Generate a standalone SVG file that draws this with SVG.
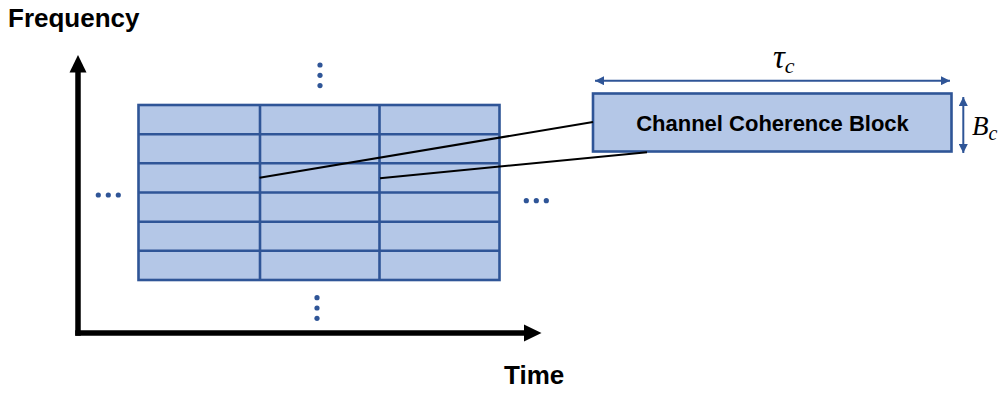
<svg xmlns="http://www.w3.org/2000/svg" width="1004" height="394" viewBox="0 0 1004 394">
<style>
.cell{fill:#B4C7E7;stroke:#2F5597;stroke-width:2.6}
.gl{stroke:#2F5597;stroke-width:2.6;fill:none}
.lbl{font-family:"Liberation Sans",Arial,sans-serif;font-weight:bold;fill:#000}
.math{font-family:"Liberation Serif","DejaVu Serif",serif;font-style:italic;fill:#000}
.dot{fill:#2F5597}
.conn{stroke:#000;stroke-width:2;fill:none}
.dim{stroke:#2F5597;stroke-width:2;fill:none}
.axis{stroke:#000;stroke-width:5.5;fill:none}
</style>
<defs>
<marker id="ah" viewBox="0 0 10 10" refX="10" refY="5" markerWidth="4.5" markerHeight="4.5" orient="auto-start-reverse" markerUnits="strokeWidth">
<path d="M0,0 L10,5 L0,10 z" fill="#2F5597"/>
</marker>
</defs>
<g id="axes">
<line class="axis" x1="78" y1="335.75" x2="78" y2="70"/>
<polygon points="69.5,72.5 78,55 86.5,72.5" fill="#000"/>
<line class="axis" x1="75.25" y1="333" x2="526" y2="333"/>
<polygon points="524,324.5 541.5,333 524,341.5" fill="#000"/>
<text class="lbl" x="8" y="27" font-size="26">Frequency</text>
<text class="lbl" x="504" y="384" font-size="26">Time</text>
</g>
<g id="grid">
<rect class="cell" x="138.5" y="105" width="361" height="175"/>
<line class="gl" x1="260" y1="105" x2="260" y2="280"/>
<line class="gl" x1="379.5" y1="105" x2="379.5" y2="280"/>
<line class="gl" x1="138.5" y1="134.2" x2="499.5" y2="134.2"/>
<line class="gl" x1="138.5" y1="163.3" x2="499.5" y2="163.3"/>
<line class="gl" x1="138.5" y1="192.5" x2="499.5" y2="192.5"/>
<line class="gl" x1="138.5" y1="221.7" x2="499.5" y2="221.7"/>
<line class="gl" x1="138.5" y1="250.8" x2="499.5" y2="250.8"/>
</g>
<g id="dots">
<circle class="dot" cx="320" cy="65" r="2.6"/>
<circle class="dot" cx="320" cy="75.3" r="2.6"/>
<circle class="dot" cx="320" cy="85.6" r="2.6"/>
<circle class="dot" cx="317" cy="297.7" r="2.6"/>
<circle class="dot" cx="317" cy="308" r="2.6"/>
<circle class="dot" cx="317" cy="318.3" r="2.6"/>
<circle class="dot" cx="98.3" cy="195" r="2.6"/>
<circle class="dot" cx="108.3" cy="195" r="2.6"/>
<circle class="dot" cx="118.3" cy="195" r="2.6"/>
<circle class="dot" cx="526.3" cy="200.7" r="2.6"/>
<circle class="dot" cx="536.3" cy="200.7" r="2.6"/>
<circle class="dot" cx="546.3" cy="200.7" r="2.6"/>
</g>
<g id="block">
<rect class="cell" x="593" y="93.5" width="358.5" height="58"/>
<text class="lbl" x="772.5" y="130.5" font-size="22" text-anchor="middle">Channel Coherence Block</text>
</g>
<g id="dimensions">
<line class="dim" x1="595" y1="80.7" x2="950" y2="80.7" marker-start="url(#ah)" marker-end="url(#ah)"/>
<line class="dim" x1="963.3" y1="97" x2="963.3" y2="153" marker-start="url(#ah)" marker-end="url(#ah)"/>
<text class="math" x="773" y="68" font-size="33">τ<tspan font-size="22" dy="5">c</tspan></text>
<text class="math" x="972" y="135" font-size="27">B<tspan font-size="20" dy="5">c</tspan></text>
</g>
<g id="connectors">
<line class="conn" x1="259.5" y1="177.8" x2="593" y2="122"/>
<line class="conn" x1="380" y1="178.3" x2="647" y2="152.2"/>
</g>
</svg>
